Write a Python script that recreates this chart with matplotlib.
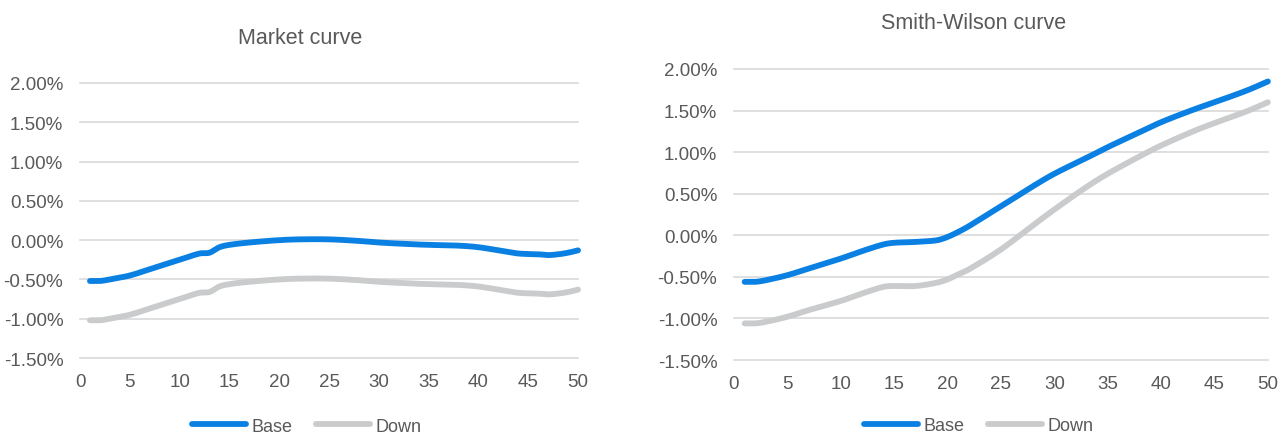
import numpy as np
import matplotlib
matplotlib.use("Agg")
import matplotlib.pyplot as plt
from matplotlib.ticker import FuncFormatter

plt.rcParams['font.family'] = ['Liberation Sans', 'DejaVu Sans']

# maturities (years) and rates in percent
market_years = [1, 2, 3, 5, 7, 10, 12, 13, 14, 15, 17, 20, 22, 25, 28, 30, 33, 35, 38, 40, 42, 44, 46, 47, 48, 49, 50]
market_base = [-0.52, -0.52, -0.50, -0.45, -0.37, -0.25, -0.17, -0.16, -0.09, -0.06, -0.03, 0.00, 0.01, 0.01, -0.01,
               -0.03, -0.05, -0.06, -0.07, -0.09, -0.13, -0.17, -0.18, -0.19, -0.18, -0.16, -0.13]
market_down = [-1.02, -1.02, -1.00, -0.95, -0.87, -0.75, -0.67, -0.66, -0.59, -0.56, -0.53, -0.50, -0.49, -0.49, -0.51,
               -0.53, -0.55, -0.56, -0.57, -0.59, -0.63, -0.67, -0.68, -0.69, -0.68, -0.66, -0.63]

sw_years = [1, 2, 3, 5, 7, 10, 12, 14, 15, 17, 19, 20, 21, 22, 25, 28, 30, 33, 35, 38, 40, 43, 45, 48, 50]
sw_base = [-0.56, -0.56, -0.54, -0.48, -0.40, -0.28, -0.19, -0.11, -0.09, -0.08, -0.06, -0.02, 0.04, 0.11, 0.35,
           0.59, 0.74, 0.93, 1.06, 1.24, 1.36, 1.51, 1.60, 1.74, 1.85]
sw_down = [-1.06, -1.06, -1.04, -0.98, -0.90, -0.79, -0.70, -0.62, -0.61, -0.61, -0.57, -0.53, -0.47, -0.41, -0.17,
           0.12, 0.31, 0.58, 0.74, 0.95, 1.08, 1.25, 1.35, 1.49, 1.60]

series_labels = ["Base", "Down"]
x_ticks = list(range(0, 51, 5))
y_ticks = [-1.5, -1.0, -0.5, 0.0, 0.5, 1.0, 1.5, 2.0]

BLUE = "#0A80E2"
GREY = "#C9CBCC"
TEXT = "#595959"
GRID = "#D9D9D9"


def smooth(x, y, n=24):
    # cubic hermite through the points, tangents from neighbouring points
    x = np.asarray(x, float)
    y = np.asarray(y, float)
    m = np.empty_like(y)
    m[1:-1] = (y[2:] - y[:-2]) / (x[2:] - x[:-2])
    m[0] = (y[1] - y[0]) / (x[1] - x[0])
    m[-1] = (y[-1] - y[-2]) / (x[-1] - x[-2])
    xs, ys = [], []
    t = np.linspace(0, 1, n, endpoint=False)
    for i in range(len(x) - 1):
        h = x[i + 1] - x[i]
        h00 = 2 * t**3 - 3 * t**2 + 1
        h10 = t**3 - 2 * t**2 + t
        h01 = -2 * t**3 + 3 * t**2
        h11 = t**3 - t**2
        xs.append(x[i] + t * h)
        ys.append(h00 * y[i] + h10 * h * m[i] + h01 * y[i + 1] + h11 * h * m[i + 1])
    xs.append([x[-1]])
    ys.append([y[-1]])
    return np.concatenate(xs), np.concatenate(ys)


def draw_panel(ax, years, base, down):
    for v in y_ticks:
        ax.axhline(v, color=GRID, lw=1.2, zorder=0, clip_on=False)
    for vals, col, lab in [(base, BLUE, series_labels[0]), (down, GREY, series_labels[1])]:
        sx, sy = smooth(years, vals)
        ax.plot(sx, sy, color=col, lw=4.2, solid_capstyle='round', solid_joinstyle='round',
                clip_on=False, label=lab, zorder=3)
    ax.set_xlim(0, 50)
    ax.set_ylim(-1.5, 2.0)
    ax.set_xticks(x_ticks)
    ax.set_yticks(y_ticks)
    ax.yaxis.set_major_formatter(FuncFormatter(lambda v, _: f"{v:.2f}%"))
    ax.tick_params(length=0, labelsize=13.5, labelcolor=TEXT)
    ax.tick_params(axis='y', pad=12)
    ax.tick_params(axis='x', pad=11)
    for s in ax.spines.values():
        s.set_visible(False)


fig = plt.figure(figsize=(12.78, 4.35), dpi=100)
ax1 = fig.add_axes([0.0626, 0.1747, 0.3897, 0.6322])
ax2 = fig.add_axes([0.5743, 0.1701, 0.4178, 0.669])

draw_panel(ax1, market_years, market_base, market_down)
draw_panel(ax2, sw_years, sw_base, sw_down)

fig.text(0.2347, 0.9126, "Market curve", ha='center', va='center', fontsize=15.5, color=TEXT)
fig.text(0.7621, 0.9471, "Smith-Wilson curve", ha='center', va='center', fontsize=15.5, color=TEXT)

for ax, cx, cy in [(ax1, 0.2402, 0.018), (ax2, 0.766, 0.019)]:
    h, l = ax.get_legend_handles_labels()
    leg = fig.legend(h, l, loc='center', bbox_to_anchor=(cx, cy), ncol=2, frameon=False,
                     fontsize=13, handlelength=3.0, handletextpad=0.3, columnspacing=1.3,
                     borderaxespad=0, borderpad=0)
    for t in leg.get_texts():
        t.set_color(TEXT)

fig.savefig("out.png", dpi=100)
